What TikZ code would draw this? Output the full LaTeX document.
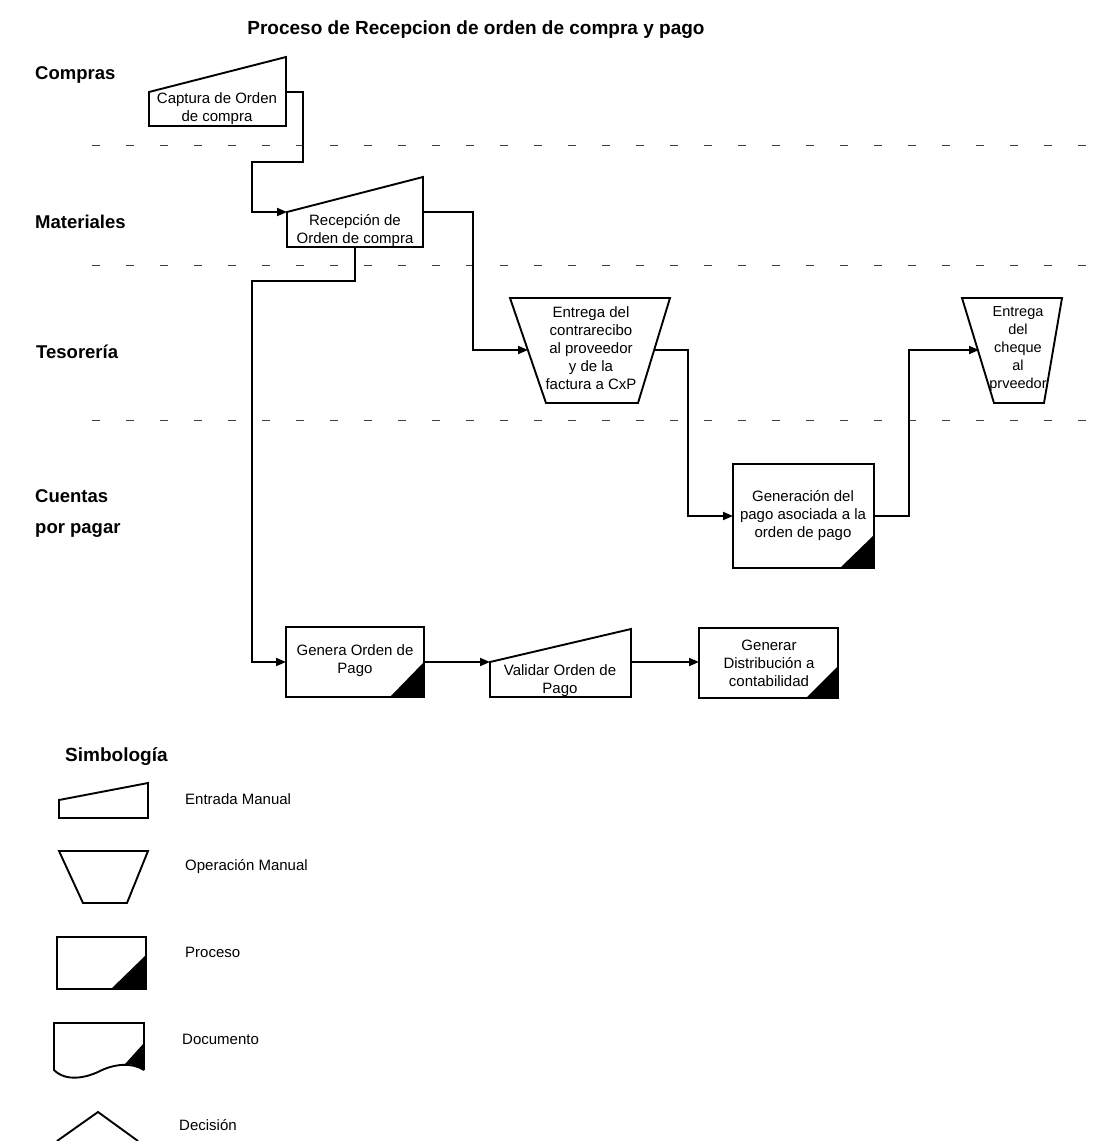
\documentclass[tikz,border=0pt]{standalone}
\usepackage{fontspec}
\setmainfont{Liberation Sans}
\usetikzlibrary{arrows.meta,calc}
\begin{document}
\begin{tikzpicture}[x=1pt,y=-1pt,
  outline/.style={draw=black,line width=1.9pt,line join=miter},
  flow/.style={draw=black,line width=1.8pt,-{Triangle[length=10pt,width=8pt]}},
  lanesep/.style={draw=black!75,line width=1pt,dash pattern=on 8pt off 26pt},
  boxtext/.style={align=center,inner sep=0pt,font=\fontsize{15}{18}\selectfont},
  lanelabel/.style={anchor=west,inner sep=0pt,align=left,font=\fontsize{18.5}{31}\selectfont\bfseries},
  legendtext/.style={anchor=west,inner sep=0pt,font=\fontsize{15}{18}\selectfont},
  headtext/.style={inner sep=0pt,font=\fontsize{19}{22}\selectfont\bfseries}
]
\useasboundingbox (0,0) rectangle (1107,1141);

% title
\node[headtext] (title) at (476,30) {Proceso de Recepcion de orden de compra y pago};

% swimlane labels
\node[lanelabel] (lcompras) at (35,75) {Compras};
\node[lanelabel] (lmateriales) at (35,222) {Materiales};
\node[lanelabel] (ltesoreria) at (36,352) {Tesorería};
\node[lanelabel] (lcxp) at (35,513) {Cuentas\\por pagar};

% lane separators
\coordinate (s1a) at (92,145);  \coordinate (s1b) at (1095,145);
\coordinate (s2a) at (92,265);  \coordinate (s2b) at (1095,265);
\coordinate (s3a) at (92,420);  \coordinate (s3b) at (1095,420);
\draw[lanesep] (s1a) -- (s1b);
\draw[lanesep] (s2a) -- (s2b);
\draw[lanesep] (s3a) -- (s3b);

% Compras: manual input
\draw[outline] (149,92) -- (286,57) -- (286,126) -- (149,126) -- cycle;
\node[boxtext] (captura) at (217,109) {Captura de Orden\\de compra};
\coordinate (captura-out) at (286,92);

% Materiales: manual input
\draw[outline] (287,212) -- (423,177) -- (423,247) -- (287,247) -- cycle;
\node[boxtext] (recepcion) at (355,230.5) {Recepción de\\Orden de compra};
\coordinate (recepcion-in) at (287,212);
\coordinate (recepcion-right) at (423,212);
\coordinate (recepcion-down) at (355,247);

% Tesoreria: manual operations
\draw[outline] (510,298) -- (670,298) -- (638,403) -- (546,403) -- cycle;
\node[boxtext] (contra) at (591,348) {Entrega del\\contrarecibo\\al proveedor\\y de la\\factura a CxP};
\coordinate (contra-in) at (528,350);
\coordinate (contra-out) at (654,350);

\draw[outline] (962,298) -- (1062,298) -- (1044,403) -- (994,403) -- cycle;
\node[boxtext,font=\fontsize{14.5}{18}\selectfont] (cheque) at (1018,349) {Entrega\\del\\cheque\\al\\prveedor};
\coordinate (cheque-in) at (979,350);

% Cuentas por pagar: processes
\draw[outline] (733,464) rectangle (874,568);
\fill (840,568) -- (874,568) -- (874,535) -- cycle;
\node[boxtext] (generacion) at (803,516) {Generación del\\pago asociada a la\\orden de pago};
\coordinate (generacion-in) at (733,516);
\coordinate (generacion-out) at (874,516);

\draw[outline] (286,627) rectangle (424,697);
\fill (390,697) -- (424,697) -- (424,662) -- cycle;
\node[boxtext] (genera) at (355,661) {Genera Orden de\\Pago};
\coordinate (genera-in) at (286,662);
\coordinate (genera-out) at (424,662);

\draw[outline] (490,662) -- (631,629) -- (631,697) -- (490,697) -- cycle;
\node[boxtext] (validar) at (560,680.5) {Validar Orden de\\Pago};
\coordinate (validar-in) at (490,662);
\coordinate (validar-out) at (631,662);

\draw[outline] (699,628) rectangle (838,698);
\fill (806,698) -- (838,698) -- (838,666) -- cycle;
\node[boxtext] (distribucion) at (769,663) {Generar\\Distribución a\\contabilidad};
\coordinate (distribucion-in) at (699,662);

% connectors
\draw[flow] (captura-out) -- ++(17,0) -- ++(0,70) -| ($(recepcion-in)+(-35,0)$) -- (recepcion-in);
\draw[flow] (recepcion-right) -- ++(50,0) |- (contra-in);
\draw[flow] (contra-out) -- ++(34,0) |- (generacion-in);
\draw[flow] (generacion-out) -- ++(35,0) |- (cheque-in);
\draw[flow] (recepcion-down) -- ++(0,34) -| ($(genera-in)+(-34,0)$) -- (genera-in);
\draw[flow] (genera-out) -- (validar-in);
\draw[flow] (validar-out) -- (distribucion-in);

% legend
\node[headtext,anchor=west] (simbologia) at (65,757) {Simbología};

\draw[outline] (59,800) -- (148,783) -- (148,818) -- (59,818) -- cycle;
\node[legendtext] (lg-entrada) at (185,799) {Entrada Manual};

\draw[outline] (59,851) -- (148,851) -- (127,903) -- (83,903) -- cycle;
\node[legendtext] (lg-operacion) at (185,867) {Operación Manual};

\draw[outline] (57,937) rectangle (146,989);
\fill (111,989) -- (146,989) -- (146,955) -- cycle;
\node[legendtext] (lg-proceso) at (185,952) {Proceso};

\draw[outline] (144,1070) -- (144,1023) -- (54,1023) -- (54,1070)
  .. controls (66,1082) and (86,1078) .. (100,1071)
  .. controls (114,1064) and (132,1062) .. (144,1070);
\fill (144,1043) -- (144,1070) .. controls (138,1066) and (132,1064) .. (125,1064) -- cycle;
\node[legendtext] (lg-documento) at (182,1039) {Documento};

\draw[outline] (57,1141) -- (98,1112) -- (138,1141);
\node[legendtext] (lg-decision) at (179,1125) {Decisión};
\end{tikzpicture}
\end{document}
